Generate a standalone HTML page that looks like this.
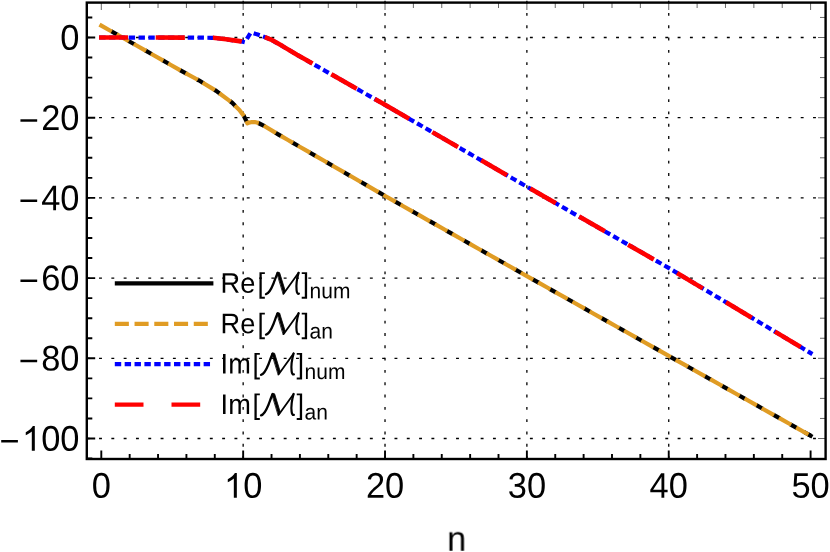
<!DOCTYPE html>
<html><head><meta charset="utf-8"><title>plot</title>
<style>html,body{margin:0;padding:0;background:#fff;}body{width:830px;height:552px;overflow:hidden;}svg{display:block;}text{font-family:"Liberation Sans",sans-serif;fill:#000;text-rendering:geometricPrecision;}</style>
</head><body>
<svg width="830" height="552" viewBox="0 0 830 552">
<rect x="0" y="0" width="830" height="552" fill="#fff"/>
<g stroke="#000" stroke-width="1.3" fill="none" stroke-dasharray="2.90 9.41">
<path d="M86.74 37.50 H825.60"/>
<path d="M86.74 117.70 H825.60"/>
<path d="M86.74 197.90 H825.60"/>
<path d="M86.74 278.10 H825.60"/>
<path d="M86.74 358.30 H825.60"/>
<path d="M86.74 438.50 H825.60"/>
<path d="M243.16 0.65 V459.00"/>
<path d="M385.02 0.65 V459.00"/>
<path d="M526.88 0.65 V459.00"/>
<path d="M668.74 0.65 V459.00"/>
</g>
<g fill="none" stroke-width="4.20" stroke-linecap="square" stroke-linejoin="round">
<path d="M101.30 25.60 L180.00 70.10 L198.80 80.30 L216.20 90.90 L232.20 102.80 L239.40 110.00 L243.80 115.80 L245.90 120.10 L247.40 123.30 L249.00 122.60 L251.00 122.20 L254.60 122.00 L258.30 123.00 L264.10 125.90 L278.60 134.60 L288.00 140.00 L385.02 195.89 L526.88 276.10 L668.74 355.89 L810.60 435.69" stroke="#000" stroke-linecap="butt" stroke-dasharray="7.74 12" stroke-dashoffset="-11"/>
<path d="M803.63 431.77 L812.43 436.72" stroke="#000" stroke-linecap="butt"/>
<path d="M101.30 25.60 L180.00 70.10 L198.80 80.30 L216.20 90.90 L232.20 102.80 L239.40 110.00 L243.80 115.80 L245.90 120.10 L247.40 123.30 L249.00 122.60 L251.00 122.20 L254.60 122.00 L258.30 123.00 L264.10 125.90 L278.60 134.60 L288.00 140.00 L385.02 195.89 L526.88 276.10 L668.74 355.89 L810.60 435.69" stroke="#e09c24" stroke-dasharray="9.87 9.87"/>
<path d="M101.30 37.50 L190.00 37.60 L213.10 37.80 L226.10 39.30 L234.00 40.40" stroke="#0000ff" stroke-dasharray="2.2 7.635"/>
<path d="M234.00 40.40 L241.30 41.40 L243.40 41.90 L245.00 41.30 L246.20 39.80 L250.00 33.90 L251.20 33.00 L252.60 32.90 L254.20 33.40 L259.80 35.30 L264.50 37.00 L271.00 39.60 L282.50 46.10 L297.00 54.80 L385.02 104.87 L526.88 186.67 L668.74 267.95 L810.60 353.01" stroke="#0000ff" stroke-dasharray="2.2 7.635" stroke-dashoffset="3.215"/>
<path d="M99.05 37.50 L101.30 37.50 L128.00 37.53" stroke="#ff0000" stroke-width="4.6" stroke-linecap="butt"/>
<path d="M155.70 37.56 L184.90 37.59" stroke="#ff0000" stroke-width="4.6" stroke-linecap="butt"/>
<path d="M212.90 37.80 L213.10 37.80 L226.10 39.30 L234.00 40.40 L241.30 41.40 L241.80 41.52" stroke="#ff0000" stroke-width="4.6" stroke-linecap="butt"/>
<path d="M264.90 37.16 L271.00 39.60 L282.50 46.10 L297.00 54.80 L312.50 63.62" stroke="#ff0000" stroke-width="4.6" stroke-linecap="butt"/>
<path d="M331.30 74.31 L356.70 88.76" stroke="#ff0000" stroke-width="4.6" stroke-linecap="butt"/>
<path d="M374.80 99.05 L385.02 104.87 L409.10 118.75" stroke="#ff0000" stroke-width="4.6" stroke-linecap="butt"/>
<path d="M432.30 132.13 L458.00 146.95" stroke="#ff0000" stroke-width="4.6" stroke-linecap="butt"/>
<path d="M481.25 160.36 L506.95 175.18" stroke="#ff0000" stroke-width="4.6" stroke-linecap="butt"/>
<path d="M530.20 188.57 L555.90 203.30" stroke="#ff0000" stroke-width="4.6" stroke-linecap="butt"/>
<path d="M579.15 216.62 L604.85 231.35" stroke="#ff0000" stroke-width="4.6" stroke-linecap="butt"/>
<path d="M628.10 244.67 L653.80 259.39" stroke="#ff0000" stroke-width="4.6" stroke-linecap="butt"/>
<path d="M677.05 272.94 L702.75 288.35" stroke="#ff0000" stroke-width="4.6" stroke-linecap="butt"/>
<path d="M726.00 302.28 L751.70 317.69" stroke="#ff0000" stroke-width="4.6" stroke-linecap="butt"/>
<path d="M774.95 331.63 L800.65 347.04" stroke="#ff0000" stroke-width="4.6" stroke-linecap="butt"/>
</g>
<rect x="86.80" y="2.60" width="738.80" height="456.40" fill="none" stroke="#000" stroke-width="2.40"/>
<path d="M101.30 459.00 V450.40 M129.67 459.00 V454.00 M158.04 459.00 V454.00 M186.42 459.00 V454.00 M214.79 459.00 V454.00 M243.16 459.00 V450.40 M271.53 459.00 V454.00 M299.90 459.00 V454.00 M328.28 459.00 V454.00 M356.65 459.00 V454.00 M385.02 459.00 V450.40 M413.39 459.00 V454.00 M441.76 459.00 V454.00 M470.14 459.00 V454.00 M498.51 459.00 V454.00 M526.88 459.00 V450.40 M555.25 459.00 V454.00 M583.62 459.00 V454.00 M612.00 459.00 V454.00 M640.37 459.00 V454.00 M668.74 459.00 V450.40 M697.11 459.00 V454.00 M725.48 459.00 V454.00 M753.86 459.00 V454.00 M782.23 459.00 V454.00 M810.60 459.00 V450.40 M86.80 458.55 H92.30 M86.80 438.50 H95.20 M86.80 418.45 H92.30 M86.80 398.40 H92.30 M86.80 378.35 H92.30 M86.80 358.30 H95.20 M86.80 338.25 H92.30 M86.80 318.20 H92.30 M86.80 298.15 H92.30 M86.80 278.10 H95.20 M86.80 258.05 H92.30 M86.80 238.00 H92.30 M86.80 217.95 H92.30 M86.80 197.90 H95.20 M86.80 177.85 H92.30 M86.80 157.80 H92.30 M86.80 137.75 H92.30 M86.80 117.70 H95.20 M86.80 97.65 H92.30 M86.80 77.60 H92.30 M86.80 57.55 H92.30 M86.80 37.50 H95.20 M86.80 17.45 H92.30" stroke="#000" stroke-width="1.9" fill="none"/>
<path d="M101.30 2.60 V10.00 M129.67 2.60 V8.00 M158.04 2.60 V8.00 M186.42 2.60 V8.00 M214.79 2.60 V8.00 M243.16 2.60 V10.00 M271.53 2.60 V8.00 M299.90 2.60 V8.00 M328.28 2.60 V8.00 M356.65 2.60 V8.00 M385.02 2.60 V10.00 M413.39 2.60 V8.00 M441.76 2.60 V8.00 M470.14 2.60 V8.00 M498.51 2.60 V8.00 M526.88 2.60 V10.00 M555.25 2.60 V8.00 M583.62 2.60 V8.00 M612.00 2.60 V8.00 M640.37 2.60 V8.00 M668.74 2.60 V10.00 M697.11 2.60 V8.00 M725.48 2.60 V8.00 M753.86 2.60 V8.00 M782.23 2.60 V8.00 M810.60 2.60 V10.00 M825.60 458.55 H820.00 M825.60 438.50 H818.00 M825.60 418.45 H820.00 M825.60 398.40 H820.00 M825.60 378.35 H820.00 M825.60 358.30 H818.00 M825.60 338.25 H820.00 M825.60 318.20 H820.00 M825.60 298.15 H820.00 M825.60 278.10 H818.00 M825.60 258.05 H820.00 M825.60 238.00 H820.00 M825.60 217.95 H820.00 M825.60 197.90 H818.00 M825.60 177.85 H820.00 M825.60 157.80 H820.00 M825.60 137.75 H820.00 M825.60 117.70 H818.00 M825.60 97.65 H820.00 M825.60 77.60 H820.00 M825.60 57.55 H820.00 M825.60 37.50 H818.00 M825.60 17.45 H820.00" stroke="#000" stroke-width="0.6" fill="none"/>
<g opacity="0.999">
<text transform="translate(91.73 497.75) rotate(0.03) scale(1 1.037)" font-size="34.40" text-anchor="start">0</text>
<path fill="#000" d="M236.84 497.75 L233.82 497.75 L233.82 478.48 Q232.73 479.53 230.96 480.57 Q229.19 481.61 227.77 482.13 L227.77 479.21 Q230.31 478.01 232.21 476.32 Q234.11 474.62 234.90 473.02 L236.84 473.02 Z"/>
<text transform="translate(243.16 497.75) rotate(0.03) scale(1 1.037)" font-size="34.40" text-anchor="start">0</text>
<text transform="translate(365.89 497.75) rotate(0.03) scale(1 1.037)" font-size="34.40" text-anchor="start">2</text>
<text transform="translate(385.02 497.75) rotate(0.03) scale(1 1.037)" font-size="34.40" text-anchor="start">0</text>
<text transform="translate(507.75 497.75) rotate(0.03) scale(1 1.037)" font-size="34.40" text-anchor="start">3</text>
<text transform="translate(526.88 497.75) rotate(0.03) scale(1 1.037)" font-size="34.40" text-anchor="start">0</text>
<text transform="translate(649.61 497.75) rotate(0.03) scale(1 1.037)" font-size="34.40" text-anchor="start">4</text>
<text transform="translate(668.74 497.75) rotate(0.03) scale(1 1.037)" font-size="34.40" text-anchor="start">0</text>
<text transform="translate(791.47 497.75) rotate(0.03) scale(1 1.037)" font-size="34.40" text-anchor="start">5</text>
<text transform="translate(810.60 497.75) rotate(0.03) scale(1 1.037)" font-size="34.40" text-anchor="start">0</text>
<text transform="translate(60.27 49.75) rotate(0.03) scale(1 1.037)" font-size="34.40" text-anchor="start">0</text>
<text transform="translate(41.14 129.95) rotate(0.03) scale(1 1.037)" font-size="34.40" text-anchor="start">2</text>
<text transform="translate(60.27 129.95) rotate(0.03) scale(1 1.037)" font-size="34.40" text-anchor="start">0</text>
<text transform="translate(38.84 131.95) rotate(0.03) scale(1 1.000)" font-size="34.40" text-anchor="end">−</text>
<text transform="translate(41.14 210.15) rotate(0.03) scale(1 1.037)" font-size="34.40" text-anchor="start">4</text>
<text transform="translate(60.27 210.15) rotate(0.03) scale(1 1.037)" font-size="34.40" text-anchor="start">0</text>
<text transform="translate(38.84 212.15) rotate(0.03) scale(1 1.000)" font-size="34.40" text-anchor="end">−</text>
<text transform="translate(41.14 290.35) rotate(0.03) scale(1 1.037)" font-size="34.40" text-anchor="start">6</text>
<text transform="translate(60.27 290.35) rotate(0.03) scale(1 1.037)" font-size="34.40" text-anchor="start">0</text>
<text transform="translate(38.84 292.35) rotate(0.03) scale(1 1.000)" font-size="34.40" text-anchor="end">−</text>
<text transform="translate(41.14 370.55) rotate(0.03) scale(1 1.037)" font-size="34.40" text-anchor="start">8</text>
<text transform="translate(60.27 370.55) rotate(0.03) scale(1 1.037)" font-size="34.40" text-anchor="start">0</text>
<text transform="translate(38.84 372.55) rotate(0.03) scale(1 1.000)" font-size="34.40" text-anchor="end">−</text>
<path fill="#000" d="M34.82 450.75 L31.80 450.75 L31.80 431.48 Q30.71 432.53 28.93 433.57 Q27.16 434.61 25.75 435.13 L25.75 432.21 Q28.29 431.01 30.19 429.32 Q32.08 427.62 32.87 426.02 L34.82 426.02 Z"/>
<text transform="translate(41.14 450.75) rotate(0.03) scale(1 1.037)" font-size="34.40" text-anchor="start">0</text>
<text transform="translate(60.27 450.75) rotate(0.03) scale(1 1.037)" font-size="34.40" text-anchor="start">0</text>
<text transform="translate(19.71 452.75) rotate(0.03) scale(1 1.000)" font-size="34.40" text-anchor="end">−</text>
<text transform="translate(456.60 550.30) rotate(0.03) scale(1 1.018)" font-size="34.40" text-anchor="middle">n</text>
<path d="M116.9 283.40 H211.3" stroke="#000" stroke-width="4.2" stroke-linecap="square" fill="none"/>
<text transform="translate(220.60 292.80) rotate(0.03) scale(1 1.040)" font-size="27.20" text-anchor="start">Re</text>
<text transform="translate(257.40 292.80) rotate(0.03) scale(1 1.040)" font-size="27.20" text-anchor="start">[</text>
<g transform="translate(265.00 272.30)" fill="none" stroke="#000" stroke-linecap="round" stroke-linejoin="round">
<path d="M1.0 21.9 C3.6 21.4 6.2 17 8.6 11 C10.1 7 11.5 2.5 12.8 0.5" stroke-width="2.3"/>
<path d="M12.0 0.4 L14.6 0.3 L20.2 18.4 L18.4 21.9 Z" fill="#000" stroke-width="0.8"/>
<path d="M18.7 21.3 L33.6 0.5" stroke-width="1.8"/>
<path d="M33.6 0.5 C32 6 31 13 31.6 18 C31.9 20.5 32.8 21.8 33.9 21.4" stroke-width="2.2"/>
</g>
<text transform="translate(301.40 292.80) rotate(0.03) scale(1 1.040)" font-size="27.20" text-anchor="start">]</text>
<text transform="translate(309.60 298.20) rotate(0.03) scale(1 1.040)" font-size="21.00" text-anchor="start">num</text>
<path d="M116.9 323.80 H211.3" stroke="#e09c24" stroke-width="4.2" stroke-linecap="square" fill="none" stroke-dasharray="9.87 9.87"/>
<text transform="translate(220.60 333.20) rotate(0.03) scale(1 1.040)" font-size="27.20" text-anchor="start">Re</text>
<text transform="translate(257.40 333.20) rotate(0.03) scale(1 1.040)" font-size="27.20" text-anchor="start">[</text>
<g transform="translate(265.00 312.70)" fill="none" stroke="#000" stroke-linecap="round" stroke-linejoin="round">
<path d="M1.0 21.9 C3.6 21.4 6.2 17 8.6 11 C10.1 7 11.5 2.5 12.8 0.5" stroke-width="2.3"/>
<path d="M12.0 0.4 L14.6 0.3 L20.2 18.4 L18.4 21.9 Z" fill="#000" stroke-width="0.8"/>
<path d="M18.7 21.3 L33.6 0.5" stroke-width="1.8"/>
<path d="M33.6 0.5 C32 6 31 13 31.6 18 C31.9 20.5 32.8 21.8 33.9 21.4" stroke-width="2.2"/>
</g>
<text transform="translate(301.40 333.20) rotate(0.03) scale(1 1.040)" font-size="27.20" text-anchor="start">]</text>
<text transform="translate(309.60 338.60) rotate(0.03) scale(1 1.040)" font-size="21.00" text-anchor="start">an</text>
<path d="M116.9 364.10 H211.3" stroke="#0000ff" stroke-width="4.2" stroke-linecap="square" fill="none" stroke-dasharray="2.2 7.67"/>
<text transform="translate(220.60 373.50) rotate(0.03) scale(1 1.040)" font-size="27.20" text-anchor="start">Im</text>
<text transform="translate(252.40 373.50) rotate(0.03) scale(1 1.040)" font-size="27.20" text-anchor="start">[</text>
<g transform="translate(260.00 353.00)" fill="none" stroke="#000" stroke-linecap="round" stroke-linejoin="round">
<path d="M1.0 21.9 C3.6 21.4 6.2 17 8.6 11 C10.1 7 11.5 2.5 12.8 0.5" stroke-width="2.3"/>
<path d="M12.0 0.4 L14.6 0.3 L20.2 18.4 L18.4 21.9 Z" fill="#000" stroke-width="0.8"/>
<path d="M18.7 21.3 L33.6 0.5" stroke-width="1.8"/>
<path d="M33.6 0.5 C32 6 31 13 31.6 18 C31.9 20.5 32.8 21.8 33.9 21.4" stroke-width="2.2"/>
</g>
<text transform="translate(296.40 373.50) rotate(0.03) scale(1 1.040)" font-size="27.20" text-anchor="start">]</text>
<text transform="translate(304.60 378.90) rotate(0.03) scale(1 1.040)" font-size="21.00" text-anchor="start">num</text>
<path d="M116.9 404.60 H211.3" stroke="#ff0000" stroke-width="4.2" stroke-linecap="square" fill="none" stroke-dasharray="24.5 32.2"/>
<text transform="translate(220.60 414.00) rotate(0.03) scale(1 1.040)" font-size="27.20" text-anchor="start">Im</text>
<text transform="translate(252.40 414.00) rotate(0.03) scale(1 1.040)" font-size="27.20" text-anchor="start">[</text>
<g transform="translate(260.00 393.50)" fill="none" stroke="#000" stroke-linecap="round" stroke-linejoin="round">
<path d="M1.0 21.9 C3.6 21.4 6.2 17 8.6 11 C10.1 7 11.5 2.5 12.8 0.5" stroke-width="2.3"/>
<path d="M12.0 0.4 L14.6 0.3 L20.2 18.4 L18.4 21.9 Z" fill="#000" stroke-width="0.8"/>
<path d="M18.7 21.3 L33.6 0.5" stroke-width="1.8"/>
<path d="M33.6 0.5 C32 6 31 13 31.6 18 C31.9 20.5 32.8 21.8 33.9 21.4" stroke-width="2.2"/>
</g>
<text transform="translate(296.40 414.00) rotate(0.03) scale(1 1.040)" font-size="27.20" text-anchor="start">]</text>
<text transform="translate(304.60 419.40) rotate(0.03) scale(1 1.040)" font-size="21.00" text-anchor="start">an</text>
</g>
</svg>
</body></html>
